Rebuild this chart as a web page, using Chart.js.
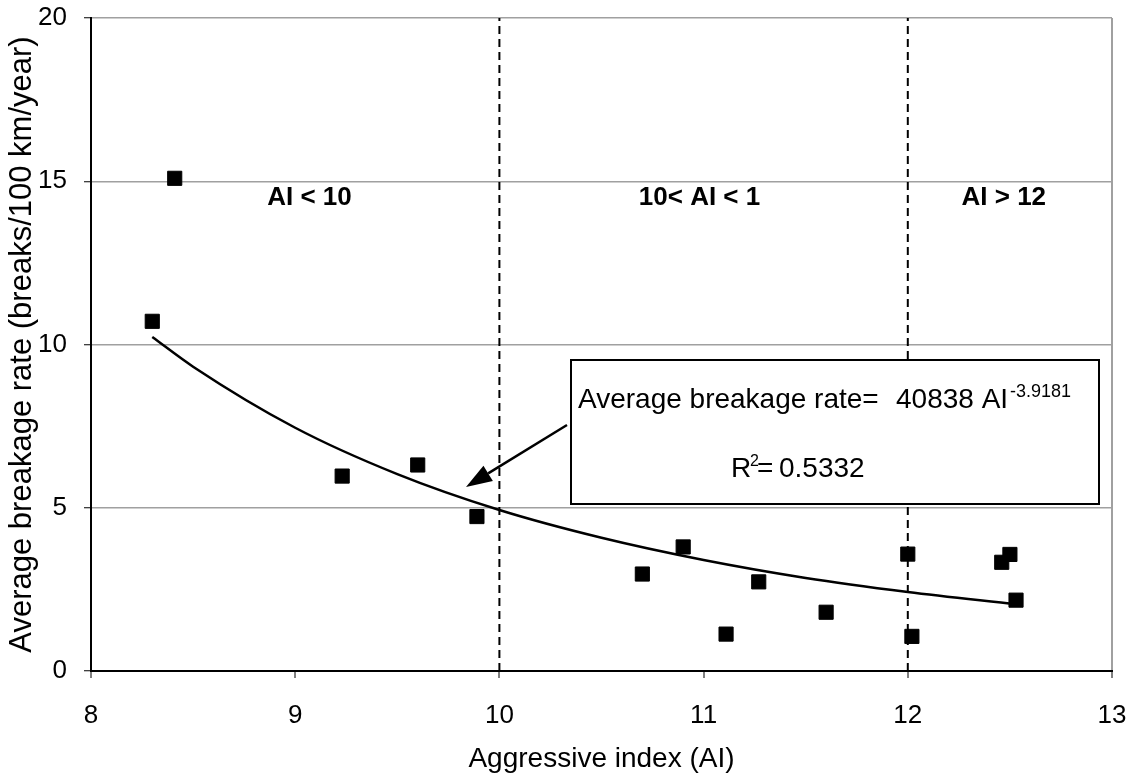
<!DOCTYPE html>
<html>
<head>
<meta charset="utf-8">
<script src="https://cdn.jsdelivr.net/npm/chart.js@4.4.1/dist/chart.umd.min.js"></script>
<style>
    body { margin: 0; background: #fff; }
    .chart-container { width: 1137px; height: 776px; }
</style>
</head>
<body>
<div class="chart-container">
    <canvas id="breakageChart" width="1137" height="776"></canvas>
</div>
<script>
// Measured points (aggressive index vs. breakage rate)
const aggressiveIndex = [8.30, 8.41, 9.23, 9.60, 9.89, 10.70, 10.90, 11.11, 11.27, 11.60, 12.00, 12.02, 12.46, 12.50, 12.53];
const breakageRate = [10.71, 15.09, 5.97, 6.31, 4.73, 2.97, 3.80, 1.13, 2.73, 1.80, 3.58, 1.06, 3.33, 3.57, 2.17];

// Power trend line
const trendIndex = [8.30, 8.50, 9.00, 9.50, 10.00, 10.50, 11.00, 11.50, 12.00, 12.53];
const trendRate = [10.23, 9.32, 7.45, 6.03, 4.93, 4.08, 3.40, 2.85, 2.42, 2.04];

// Dashed region boundaries
const boundaryIndex = [10, 12];

const xTicks = [8, 9, 10, 11, 12, 13];
const yTicks = [0, 5, 10, 15, 20];

const regionLabels = ['AI < 10', '10< AI < 1', 'AI > 12'];
const regionCenters = [9.07, 10.98, 12.47];

const FONT = "'Liberation Sans', Arial, Helvetica, sans-serif";
const GRID_GRAY = '#a0a0a0';

const datasets = [
    {
        label: 'Breakage rate',
        data: aggressiveIndex.map((x, i) => ({ x: x, y: breakageRate[i] })),
        pointStyle: 'rect',
        pointRadius: 10,
        pointHoverRadius: 10,
        backgroundColor: '#000',
        borderColor: '#000',
        borderWidth: 1,
        order: 1
    },
    {
        label: 'Trend',
        data: trendIndex.map((x, i) => ({ x: x, y: trendRate[i] })),
        showLine: true,
        borderColor: '#000',
        borderWidth: 2.5,
        pointRadius: 0,
        cubicInterpolationMode: 'monotone',
        order: 2
    }
];

boundaryIndex.forEach(x => {
    datasets.push({
        label: 'Boundary ' + x,
        data: [{ x: x, y: yTicks[0] }, { x: x, y: yTicks[yTicks.length - 1] }],
        showLine: true,
        borderColor: '#000',
        borderWidth: 2,
        borderDash: [8, 5],
        pointRadius: 0,
        order: 3
    });
});

// Region labels, equation box and arrow
const annotations = {
    id: 'annotations',
    afterDatasetsDraw(chart) {
        const ctx = chart.ctx;
        const xs = chart.scales.x;

        ctx.save();
        ctx.fillStyle = '#000';
        ctx.textBaseline = 'alphabetic';

        // region labels
        ctx.font = 'bold 26px ' + FONT;
        ctx.textAlign = 'center';
        regionLabels.forEach((t, i) => {
            ctx.fillText(t, xs.getPixelForValue(regionCenters[i]), 205);
        });

        // equation box
        ctx.fillStyle = '#fff';
        ctx.fillRect(571, 360, 528, 144);
        ctx.strokeStyle = '#000';
        ctx.lineWidth = 2;
        ctx.strokeRect(571, 360, 528, 144);

        ctx.fillStyle = '#000';
        ctx.textAlign = 'left';
        ctx.font = '28px ' + FONT;
        ctx.fillText('Average breakage rate=', 578, 408);
        ctx.fillText('40838 AI', 896, 408);
        ctx.font = '18px ' + FONT;
        ctx.fillText('-3.9181', 1010, 397);

        ctx.font = '28px ' + FONT;
        ctx.fillText('R', 731, 477);
        ctx.font = '16px ' + FONT;
        ctx.fillText('2', 750, 466);
        ctx.font = '28px ' + FONT;
        ctx.fillText('=', 757, 477);
        ctx.fillText('0.5332', 779, 477);

        // arrow
        const x0 = 567, y0 = 425, x1 = 466, y1 = 487;
        const ang = Math.atan2(y1 - y0, x1 - x0);
        const headLen = 26, headHalf = 9;
        const bx = x1 - headLen * Math.cos(ang), by = y1 - headLen * Math.sin(ang);
        ctx.lineWidth = 2.5;
        ctx.beginPath();
        ctx.moveTo(x0, y0);
        ctx.lineTo(bx, by);
        ctx.stroke();
        ctx.beginPath();
        ctx.moveTo(x1, y1);
        ctx.lineTo(bx + headHalf * Math.sin(ang), by - headHalf * Math.cos(ang));
        ctx.lineTo(bx - headHalf * Math.sin(ang), by + headHalf * Math.cos(ang));
        ctx.closePath();
        ctx.fill();

        ctx.restore();
    }
};

const chart = new Chart(document.getElementById('breakageChart'), {
    type: 'scatter',
    data: { datasets: datasets },
    options: {
        responsive: false,
        animation: false,
        layout: { padding: { top: 18, right: 25, left: 0, bottom: 0 } },
        plugins: {
            legend: { display: false },
            tooltip: { enabled: false }
        },
        scales: {
            x: {
                type: 'linear',
                min: xTicks[0],
                max: xTicks[xTicks.length - 1],
                afterBuildTicks: axis => { axis.ticks = xTicks.map(v => ({ value: v })); },
                afterFit: axis => {
                    axis.height = 105;
                    axis.paddingLeft = 0;
                    axis.paddingRight = 0;
                },
                grid: {
                    color: c => (c.tick && c.tick.value === xTicks[xTicks.length - 1]) ? GRID_GRAY : 'rgba(0,0,0,0)',
                    lineWidth: 2,
                    tickColor: '#000',
                    tickLength: 7,
                    tickWidth: 1
                },
                border: { color: '#000', width: 2 },
                ticks: {
                    color: '#000',
                    padding: 22,
                    maxRotation: 0,
                    font: { family: FONT, size: 26 }
                },
                title: {
                    display: true,
                    text: 'Aggressive index (AI)',
                    color: '#000',
                    font: { family: FONT, size: 28 },
                    padding: { top: 15, bottom: 0 }
                }
            },
            y: {
                type: 'linear',
                min: yTicks[0],
                max: yTicks[yTicks.length - 1],
                afterBuildTicks: axis => { axis.ticks = yTicks.map(v => ({ value: v })); },
                afterFit: axis => {
                    axis.width = 91;
                    axis.paddingTop = 0;
                    axis.paddingBottom = 0;
                },
                grid: {
                    color: GRID_GRAY,
                    lineWidth: 1.5,
                    tickColor: '#000',
                    tickLength: 7,
                    tickWidth: 1
                },
                border: { color: '#000', width: 2 },
                ticks: {
                    color: '#000',
                    padding: 17,
                    font: { family: FONT, size: 26 }
                },
                title: {
                    display: true,
                    text: 'Average breakage rate (breaks/100 km/year)',
                    color: '#000',
                    font: { family: FONT, size: 31 },
                    padding: { top: 4, bottom: 0 }
                }
            }
        }
    },
    plugins: [annotations]
});
</script>
</body>
</html>
